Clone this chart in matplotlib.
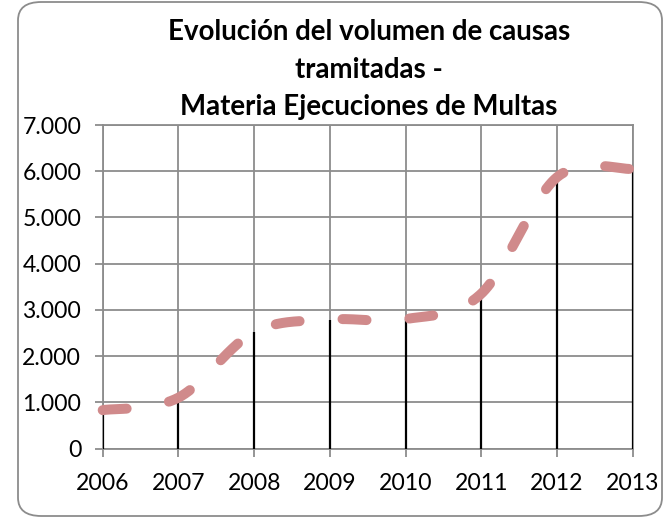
import numpy as np
import matplotlib
matplotlib.use("Agg")
import matplotlib.pyplot as plt
from matplotlib.patches import FancyBboxPatch
from matplotlib.ticker import FuncFormatter

years = [2006, 2007, 2008, 2009, 2010, 2011, 2012, 2013]
causas = [830, 1100, 2520, 2790, 2800, 3350, 5870, 6050]
y_ticks = [0, 1000, 2000, 3000, 4000, 5000, 6000, 7000]
title_lines = ["Evolución del volumen de causas", "tramitadas -", "Materia Ejecuciones de Multas"]

W, H = 666, 523
fig = plt.figure(figsize=(W / 100, H / 100), dpi=100)
fig.patch.set_facecolor("white")
renderer = fig.canvas.get_renderer()

FONT = "Lato"
GRAY = "#8c8c8c"


def fit_size(text, target_px, weight="normal", base=14.0):
    t = fig.text(0, 0, text, fontsize=base, fontweight=weight, family=FONT)
    w = t.get_window_extent(renderer).width
    t.remove()
    return base * target_px / w


# rounded outer border
border = FancyBboxPatch((18 / W, 7 / H), (662 - 18) / W, (521 - 7) / H,
                        boxstyle="round,pad=0,rounding_size=0.035",
                        transform=fig.transFigure, facecolor="none",
                        edgecolor=GRAY, linewidth=1.3, zorder=-5)
fig.patches.append(border)

ax = fig.add_axes([102.7 / W, (H - 448.5) / H, (632.7 - 102.7) / W, (448.5 - 125) / H])
ax.set_facecolor("white")
ax.set_zorder(2)

x = np.arange(len(years), dtype=float)
y = np.array(causas, dtype=float)

# drop lines
ax.vlines(x, 0, y, colors="black", linewidth=1.6, zorder=3)

# Excel-style smoothed line (Catmull-Rom Bezier)
pts = np.column_stack([x, y])
curve = []
n = len(pts)
for i in range(n - 1):
    p0 = pts[max(i - 1, 0)]
    p1 = pts[i]
    p2 = pts[i + 1]
    p3 = pts[min(i + 2, n - 1)]
    c1 = p1 + (p2 - p0) / 6.0
    c2 = p2 - (p3 - p1) / 6.0
    t = np.linspace(0, 1, 60)[:, None]
    seg = ((1 - t) ** 3) * p1 + 3 * ((1 - t) ** 2) * t * c1 + 3 * (1 - t) * t ** 2 * c2 + t ** 3 * p2
    curve.append(seg if i == 0 else seg[1:])
curve = np.vstack(curve)
line, = ax.plot(curve[:, 0], curve[:, 1], color="#d08a8b", linewidth=7.2,
                solid_capstyle="round", dash_capstyle="round", zorder=4, clip_on=False)
line.set_dashes([2.4, 4.3])

tick_size = fit_size("7.000", 59)

ax.set_xlim(0, len(years) - 1)
ax.set_ylim(0, 7000)
ax.set_xticks(x)
ax.set_xticklabels([str(v) for v in years])
ax.set_yticks(y_ticks)
ax.yaxis.set_major_formatter(FuncFormatter(lambda v, p: f"{int(v):,}".replace(",", ".")))
ax.grid(True, color=GRAY, linewidth=1.3, zorder=1)
ax.set_axisbelow(True)
for s in ax.spines.values():
    s.set_color(GRAY)
    s.set_linewidth(1.3)
ax.tick_params(axis="both", colors=GRAY, length=5.5, width=1.3, direction="out",
               labelcolor="black", labelsize=tick_size)
ax.tick_params(axis="x", pad=12)
ax.tick_params(axis="y", pad=10)
for lab in ax.get_xticklabels() + ax.get_yticklabels():
    lab.set_family(FONT)

title_size = fit_size(title_lines[0], 406, weight="bold")
baselines = [40.0, 77.5, 115.0]
for txt, b in zip(title_lines, baselines):
    fig.text(369 / W, 1 - b / H, txt, ha="center", va="baseline",
             fontsize=title_size, fontweight="bold", family=FONT, color="black")

fig.savefig("out.png", dpi=100)
